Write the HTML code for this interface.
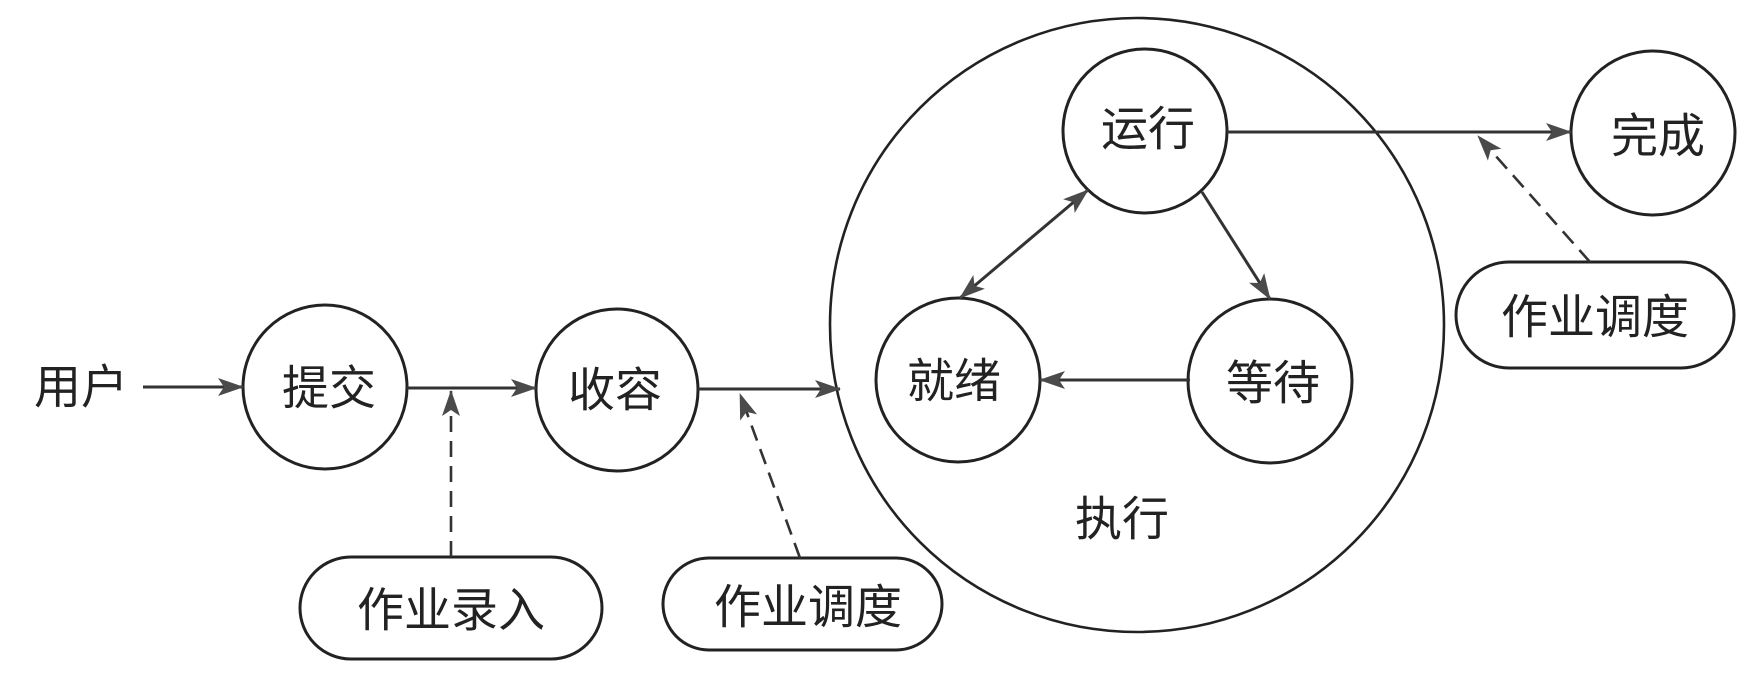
<!DOCTYPE html>
<html>
<head>
<meta charset="utf-8">
<style>
  html,body{margin:0;padding:0;background:#fff;}
  svg{display:block;}
  text{font-family:"Liberation Sans","Noto Sans CJK SC",sans-serif;font-size:47px;fill:#222;}
</style>
</head>
<body>
<svg width="1749" height="674" viewBox="0 0 1749 674" xmlns="http://www.w3.org/2000/svg">
  <defs>
    <marker id="ah" markerUnits="userSpaceOnUse" markerWidth="28" markerHeight="20" refX="25" refY="10" orient="auto-start-reverse">
      <path d="M0,1 L26,10 L0,19 L6,10 Z" fill="#4a4a4a"/>
    </marker>
  </defs>

  <g fill="none" stroke="#222" stroke-width="3">
    <!-- big execution circle -->
    <circle cx="1137" cy="325" r="307" stroke-width="2.6"/>
    <!-- nodes -->
    <circle cx="325" cy="387" r="82"/>
    <circle cx="617" cy="390" r="81"/>
    <circle cx="1145" cy="131" r="82"/>
    <circle cx="1653" cy="133" r="82"/>
    <circle cx="958" cy="380" r="82"/>
    <circle cx="1270" cy="381" r="82"/>
    <!-- rounded boxes -->
    <rect x="300" y="557" width="302" height="102" rx="51" ry="51"/>
    <rect x="663" y="558" width="279" height="92" rx="46" ry="46"/>
    <rect x="1456" y="262" width="278" height="106" rx="53" ry="53"/>
  </g>

  <g fill="none" stroke="#333" stroke-width="3">
    <!-- solid arrows -->
    <line x1="143" y1="387" x2="243" y2="387" marker-end="url(#ah)"/>
    <line x1="407" y1="388" x2="536" y2="388" marker-end="url(#ah)"/>
    <line x1="698" y1="389" x2="840" y2="389" marker-end="url(#ah)"/>
    <line x1="1227" y1="132" x2="1571" y2="132" marker-end="url(#ah)"/>
    <line x1="960" y1="298" x2="1088" y2="190" marker-start="url(#ah)" marker-end="url(#ah)"/>
    <line x1="1202" y1="192" x2="1270" y2="299" marker-end="url(#ah)"/>
    <line x1="1190" y1="380" x2="1040" y2="380" marker-end="url(#ah)"/>
  </g>
  <g fill="none" stroke="#333" stroke-width="2.6" stroke-dasharray="16 9">
    <!-- dashed arrows -->
    <line x1="451" y1="557" x2="451" y2="391" marker-end="url(#ah)"/>
    <line x1="800" y1="558" x2="740" y2="394" marker-end="url(#ah)"/>
    <line x1="1590" y1="262" x2="1478" y2="136" marker-end="url(#ah)"/>
  </g>

  <g text-anchor="middle" dominant-baseline="central">
    <text x="81" y="387">用户</text>
    <text x="329" y="388">提交</text>
    <text x="615" y="390">收容</text>
    <text x="1148" y="129">运行</text>
    <text x="1658" y="136">完成</text>
    <text x="954" y="381">就绪</text>
    <text x="1273" y="383">等待</text>
    <text x="1122" y="519">执行</text>
    <text x="451" y="610">作业录入</text>
    <text x="808" y="607">作业调度</text>
    <text x="1595" y="317">作业调度</text>
  </g>
</svg>
</body>
</html>
